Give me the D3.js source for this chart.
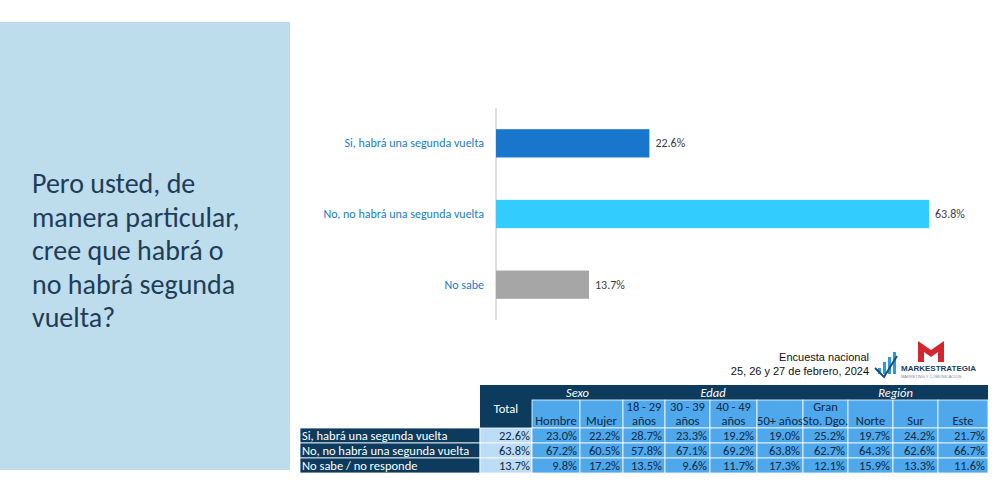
<!DOCTYPE html>
<html><head><meta charset="utf-8">
<script src="https://cdn.jsdelivr.net/npm/d3@7"></script>
<style>body{margin:0;background:#fff}svg{font-family:Calibri,Carlito,"Open Sans",sans-serif}</style>
</head><body><svg width="1004" height="504"></svg>
<script>
// data
const answers = ["Si, habrá una segunda vuelta", "No, no habrá una segunda vuelta", "No sabe"];
const shares = [22.6, 63.8, 13.7];
const barColors = ["#1877cc", "#33ccff", "#a6a6a6"];

const rowLabels = ["Si, habrá una segunda vuelta", "No, no habrá una segunda vuelta", "No sabe / no responde"];
const colLabels = [["Hombre"], ["Mujer"], ["18 - 29", "años"], ["30 - 39", "años"], ["40 - 49", "años"], ["50+ años"], ["Gran", "Sto. Dgo."], ["Norte"], ["Sur"], ["Este"]];
const groups = [["Sexo", 0, 2], ["Edad", 2, 6], ["Región", 6, 10]];
const totals = [22.6, 63.8, 13.7];
const cells = [
  [23.0, 22.2, 28.7, 23.3, 19.2, 19.0, 25.2, 19.7, 24.2, 21.7],
  [67.2, 60.5, 57.8, 67.1, 69.2, 63.8, 62.7, 64.3, 62.6, 66.7],
  [9.8, 17.2, 13.5, 9.6, 11.7, 17.3, 12.1, 15.9, 13.3, 11.6]
];

const svg = d3.select("svg");
const navy = "#0c3b5e";

// left panel
svg.append("rect").attr("x", 0).attr("y", 22).attr("width", 290).attr("height", 448).attr("fill", "#bddcec");
const title = ["Pero usted, de", "manera particular,", "cree que habrá o", "no habrá segunda", "vuelta?"];
svg.append("text").attr("x", 32).attr("y", 193).attr("fill", "#1f3d58").attr("font-size", 28)
  .selectAll("tspan").data(title).join("tspan").attr("x", 32).attr("dy", (d, i) => i ? 33.5 : 0).text(d => d);

// bar chart
const x = d3.scaleLinear().domain([0, 63.8]).range([496, 929]);
const y = d3.scaleBand().domain(answers).range([108, 320]).paddingInner(0.6).paddingOuter(0.3);
svg.append("line").attr("x1", 496).attr("x2", 496).attr("y1", 108).attr("y2", 320).attr("stroke", "#bfbfbf");
const bars = svg.append("g").selectAll("g").data(answers).join("g");
bars.append("rect").attr("x", x(0)).attr("y", d => y(d)).attr("height", y.bandwidth())
  .attr("width", (d, i) => x(shares[i]) - x(0)).attr("fill", (d, i) => barColors[i]);
bars.append("text").attr("x", (d, i) => x(shares[i]) + 6).attr("y", d => y(d) + y.bandwidth() / 2 + 4)
  .attr("font-size", 12).attr("fill", "#404040").text((d, i) => shares[i].toFixed(1) + "%");
bars.append("text").attr("x", 484).attr("y", d => y(d) + y.bandwidth() / 2 + 4).attr("text-anchor", "end")
  .attr("font-size", 12).attr("fill", "#1a7bd0").text(d => d);

// source + logo
const src = svg.append("g").attr("font-family", "Arial, Liberation Sans, sans-serif").attr("font-size", 11).attr("text-anchor", "end").attr("fill", "#111");
src.append("text").attr("x", 869).attr("y", 361).text("Encuesta nacional");
src.append("text").attr("x", 869).attr("y", 375).text("25, 26 y 27 de febrero, 2024");
const logo = svg.append("g");
[[878, 368, 3, 6], [883, 362, 3, 12], [888, 357, 3, 17], [893, 352, 3, 22]].forEach(([a, b, w, h]) =>
  logo.append("rect").attr("x", a).attr("y", b).attr("width", w).attr("height", h).attr("fill", "#2a9ad8"));
logo.append("path").attr("d", "M875,368 L884,377 L897,356").attr("fill", "none").attr("stroke", "#1a4d80").attr("stroke-width", 2);
logo.append("path").attr("d", "M918,362 L918,341 L931,350 L944,341 L944,362 L938,362 L938,352 L931,357 L924,352 L924,362 Z").attr("fill", "#d22630");
logo.append("text").attr("x", 901).attr("y", 371).attr("font-size", 8).attr("font-weight", "bold").attr("fill", "#1a3d66").attr("font-family", "Arial, sans-serif").text("MARKESTRATEGIA");
logo.append("text").attr("x", 901).attr("y", 378).attr("font-size", 4).attr("fill", "#7a8ca0").attr("font-family", "Arial, sans-serif").text("MARKETING Y COMUNICACIÓN");

// table
const colEdges = [532, 580, 623, 665, 710, 757, 803, 848, 893, 938, 988];
const rowTop = [428, 443, 458], rowH = 15;
const t = svg.append("g").attr("font-size", 12.5);
// headers
t.append("rect").attr("x", 480).attr("y", 385).attr("width", 52).attr("height", 43).attr("fill", navy);
t.append("text").attr("x", 506).attr("y", 413).attr("text-anchor", "middle").attr("fill", "#fff").text("Total");
t.append("rect").attr("x", 532).attr("y", 385).attr("width", 456).attr("height", 15).attr("fill", navy);
groups.forEach(([g, a, b]) => t.append("text").attr("x", (colEdges[a] + colEdges[b]) / 2).attr("y", 397)
  .attr("text-anchor", "middle").attr("font-style", "italic").attr("fill", "#fff").text(g));
colLabels.forEach((lab, j) => {
  t.append("rect").attr("x", colEdges[j]).attr("y", 400).attr("width", colEdges[j + 1] - colEdges[j]).attr("height", 28)
    .attr("fill", "#4fa8ec").attr("stroke", "#fff").attr("stroke-width", 0.8);
  t.append("text").attr("text-anchor", "middle").attr("fill", "#0c2a44")
    .selectAll("tspan").data(lab).join("tspan").attr("x", (colEdges[j] + colEdges[j + 1]) / 2)
    .attr("y", (d, i) => 425 - (lab.length - 1 - i) * 14).text(d => d);
});
rowLabels.forEach((r, i) => {
  t.append("rect").attr("x", 300).attr("y", rowTop[i]).attr("width", 180).attr("height", rowH)
    .attr("fill", navy).attr("stroke", "#fff").attr("stroke-width", 0.8);
  t.append("text").attr("x", 302).attr("y", rowTop[i] + 12).attr("fill", "#fff").text(r);
  t.append("rect").attr("x", 480).attr("y", rowTop[i]).attr("width", 52).attr("height", rowH)
    .attr("fill", "#bddcf5").attr("stroke", "#fff").attr("stroke-width", 0.8);
  t.append("text").attr("x", 530).attr("y", rowTop[i] + 12).attr("text-anchor", "end").attr("fill", "#0c2a44").text(totals[i].toFixed(1) + "%");
  cells[i].forEach((v, j) => {
    t.append("rect").attr("x", colEdges[j]).attr("y", rowTop[i]).attr("width", colEdges[j + 1] - colEdges[j]).attr("height", rowH)
      .attr("fill", "#4fa8ec").attr("stroke", "#fff").attr("stroke-width", 0.8);
    t.append("text").attr("x", colEdges[j + 1] - 3).attr("y", rowTop[i] + 12).attr("text-anchor", "end").attr("fill", "#0c2a44").text(v.toFixed(1) + "%");
  });
});
</script></body></html>
